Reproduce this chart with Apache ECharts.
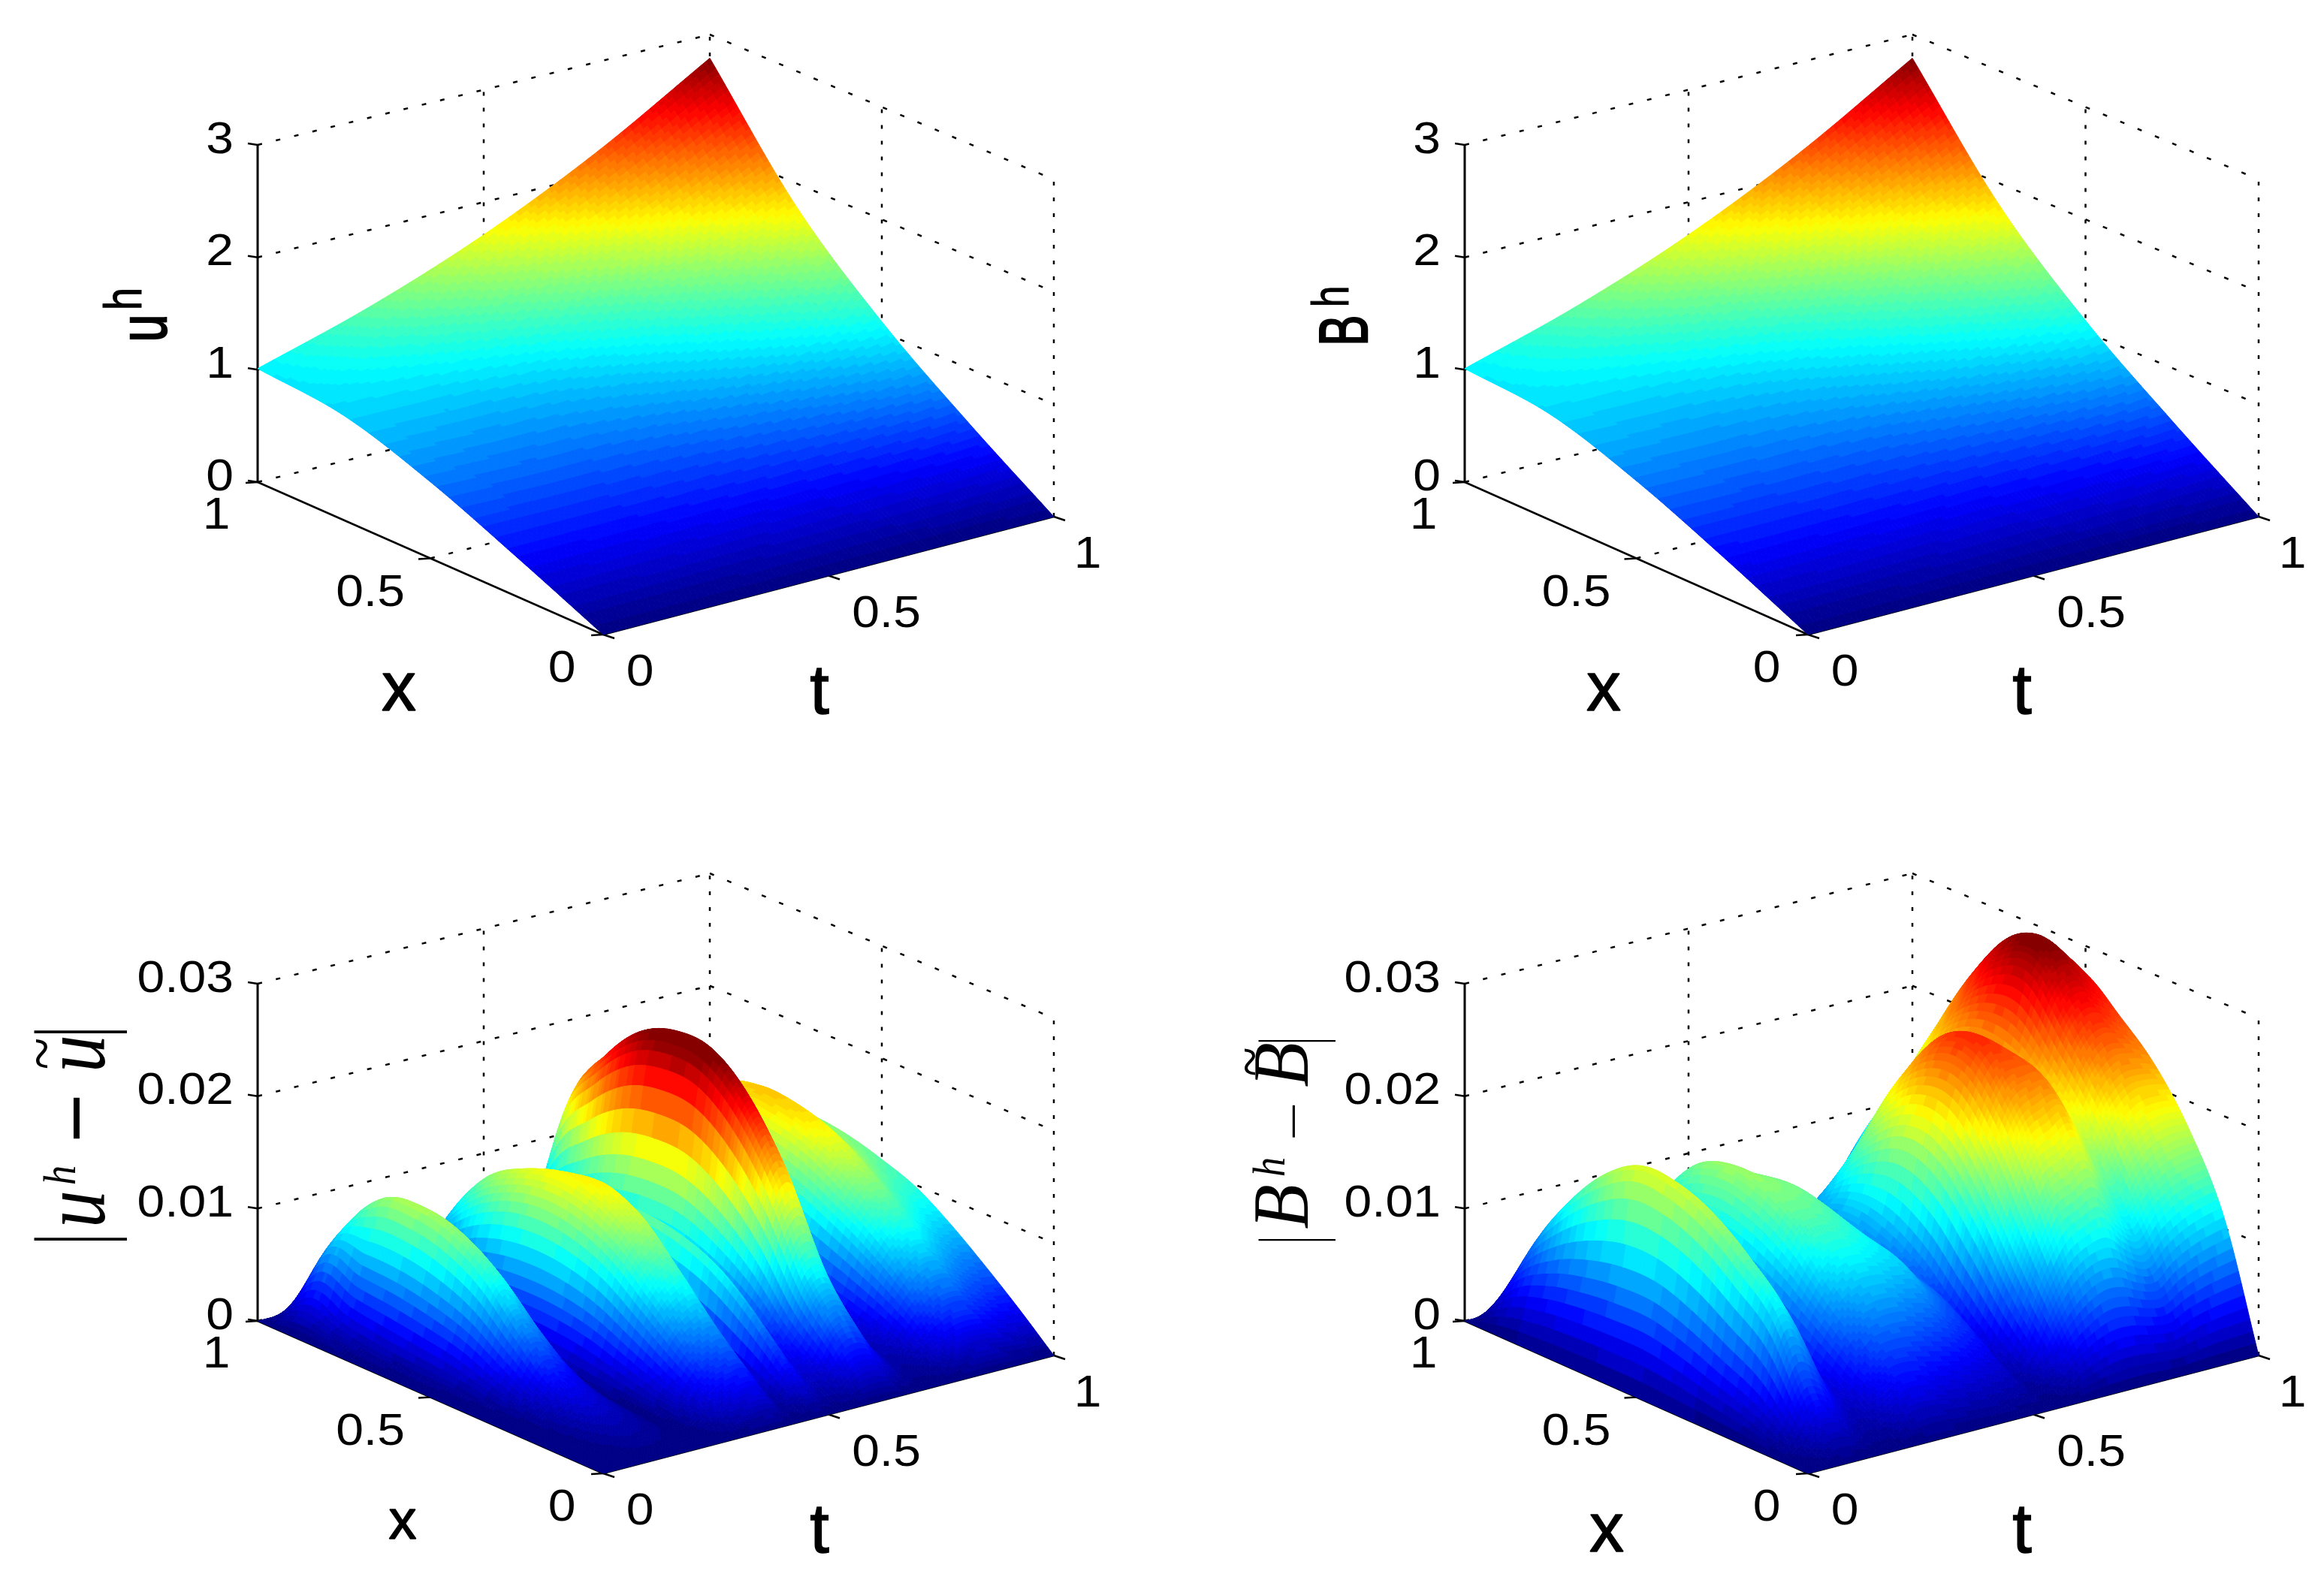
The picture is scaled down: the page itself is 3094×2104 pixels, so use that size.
<!DOCTYPE html>
<html><head><meta charset="utf-8">
<style>html,body{margin:0;padding:0;background:#fff}#c{width:3094px;height:2104px}</style>
<script src="https://cdn.jsdelivr.net/npm/echarts@6/dist/echarts.min.js"></script>
</head><body><div id="c"></div>
<script>
// ---------- values ----------
// rows: t ascending, columns: x ascending
const uSurface = [
 [0,.35,.68,.93,1.01],
 [0,.36,.66,.95,1.32],
 [0,.39,.72,1.08,1.71],
 [0,.44,.87,1.38,2.20],
 [0,.52,1.09,1.80,2.79]];
const bSurface = [
 [0,.36,.69,.94,1.01],
 [0,.37,.68,.96,1.32],
 [0,.40,.74,1.10,1.71],
 [0,.45,.89,1.40,2.20],
 [0,.53,1.10,1.81,2.79]];
// rows t = 0, .04, ... 1; columns x = 0, .1, ... 1; values x 1e-3
const uError = [
 [0,0,0,0,0,0,0,0,0,0,0],
 [0,.1,.2,.3,.6,1,1.2,1.5,2,3,0],
 [0,.4,.9,1.6,3.2,5,6,6.6,6.8,7,0],
 [0,.8,1.8,3.2,6.4,10,12,12.7,12.2,8.5,0],
 [0,.7,1.6,2.9,5.8,9,10.8,11.4,10.6,8,0],
 [0,.4,.9,1.6,3.2,5,6,6.4,6.1,5,0],
 [0,.1,.2,.3,.6,1,1.2,1.3,1.2,1,0],
 [0,1.2,2.2,3.4,4.6,5.2,5.3,5,4.2,2.6,0],
 [0,2.7,5.1,7.8,10.4,11.8,12.2,11.5,9.6,6,0],
 [0,3.4,6.4,9.8,13,14.8,15,14,12,7.5,0],
 [0,3.4,6.4,9.8,12.8,14,13,11,8.5,5,0],
 [0,1,1.9,2.9,3.9,4.4,4.6,4.3,3.6,2.3,0],
 [0,3.4,6.8,9.4,10.8,11.4,11.2,9.6,7,4.2,0],
 [0,1.8,3.5,5,6,6.5,6.5,5.8,4.5,3,0],
 [0,2.2,4.5,8,10.5,12,12.2,11.6,10,7.2,0],
 [0,4.4,8.7,15.5,20.2,22.8,23.1,22,18.9,13.9,0],
 [0,4.5,9,16,20.8,23.5,23.8,22.6,19.4,14.3,0],
 [0,2.3,4.5,8,10.5,12,12.2,11.6,10,7.2,0],
 [0,.9,1.8,3.2,4.2,4.9,5,4.8,4,2.9,0],
 [0,1.2,2.3,3.2,3.9,4.5,4.8,4.9,4.5,3,0],
 [0,2.8,5.3,7.4,9.1,10.5,11.2,11.3,10.5,7,0],
 [0,3.8,7.1,10,12.4,14.3,15.2,15.4,14.3,9.5,0],
 [0,4,7.5,10.5,13,15,16,16.2,15,10,0],
 [0,3.5,6.5,9.2,11.4,13.2,14.2,14.7,14,9.8,0],
 [0,3,5.7,8.2,10.3,11.8,12.7,13.2,12.8,9.3,0],
 [0,2.8,5.4,7.8,9.8,11,11.9,12.3,12,9,0]];
const bError = [
 [0,0,0,0,0,0,0,0,0,0,0],
 [0,1.5,4,5.5,7,8,8,7.5,6.5,4.5,0],
 [0,4,10.8,14,16.5,17.8,18,16,12.5,7.5,0],
 [0,3.7,9.5,12.5,14.5,15.5,15.5,14,11,6.5,0],
 [0,2,5.4,7.3,8.8,9.4,9.3,8.3,6.4,3.8,0],
 [0,1.5,3,4.5,5.5,6,6,5.5,4,2.2,0],
 [0,3,5.2,7.6,10,11.6,12.2,11.2,8.3,4.5,0],
 [0,4,7,10,13.5,15.5,16.2,15,11,6,0],
 [0,4,7.5,11,14,15.5,15.5,14,10,5,0],
 [0,3.5,7.5,11,13.5,15,14.5,12.5,8.5,4,0],
 [0,3.2,7,10.5,12.5,13.5,13,10.5,7,3,0],
 [0,2.8,6.5,10,11,11.5,11.5,9,5.5,2.5,0],
 [0,2.4,5.5,8,9,10,10,8,5,2.5,0],
 [0,2,4.5,6.5,7.5,8,8.5,7.5,5,2.5,0],
 [0,1,2.5,5,8,10,10.5,9,5.5,2.5,0],
 [0,3,7,12,16,17,15,11,6,2.5,0],
 [0,6,12,18,22,22,19,13,7,3,0],
 [0,8,16,22,25.5,25,21,15,8.5,4,0],
 [0,9,17,23,25.5,25,22,16,9,4,0],
 [0,9,18,23,24,22.5,19.5,17,13,7,0],
 [0,8,15,20,21.5,21,21,19,15,9,0],
 [0,7.5,13,18,21.5,24.5,24.5,22,17,10,0],
 [0,9,15.5,21,25.5,29.5,28.5,24.5,19,11.5,0],
 [0,10,17,22.5,27,31,30.5,26.5,20.5,12,0],
 [0,10.6,17.5,22.5,26.2,29.5,28.5,24.5,19,11.5,0],
 [0,11,17.5,22,25,27.5,27,23.5,18,10.5,0]];
const zTicksState = [0,1,2,3];
const zTicksError = [0,10,20,30];
const zLabelsState = ['0','1','2','3'];
const zLabelsError = ['0','0.01','0.02','0.03'];
const floorTicks = [0,0.5,1];
const floorLabels = ['0','0.5','1'];

// ---------- layout and styling ----------
const GRID_W = 1490, GRID_H = 987;
const SANS = 'Liberation Sans', SERIF = 'Liberation Serif';
const Q = Math.PI/2;
// [text, x, y, family, size, scaleX, scaleY, italic, strokeWidth]
const PANELS = [
 {left:0, top:0, adj:0, table:uSurface, colorMax:2.79, zTicks:zTicksState, zTop:3, zLabels:zLabelsState, sub:[28,28], xSize:92,
  title:[['u',196,437,SANS,89,.74,1,0,2.5],['h',168,398,SANS,71,.76,1,0,1]]},
 {left:1604, top:0, adj:3, table:bSurface, colorMax:2.79, zTicks:zTicksState, zTop:3, zLabels:zLabelsState, sub:[28,28], xSize:92,
  title:[['B',191,440,SANS,91,.68,1,0,2.5],['h',172,395,SANS,68,.76,1,0,1]]},
 {left:0, top:1117, adj:0, table:uError, colorMax:24, zTicks:zTicksError, zTop:30, zLabels:zLabelsError, sub:[6,12], xSize:74,
  title:[['|',105,257,SERIF,135,.55,1,0,0],['|',105,533,SERIF,135,.55,1,0,0],['\u2212',108,372,SANS,112,1,1,0,0],
         ['u',107,286,SERIF,120,.83,1,1,0],['~',62,286,SERIF,88,.9,1,0,0],['u',107,493,SERIF,120,.83,1,1,0],['h',84,448,SERIF,62,.85,1,1,0]]},
 {left:1604, top:1117, adj:3, table:bError, colorMax:31, zTicks:zTicksError, zTop:30, zLabels:zLabelsError, sub:[6,12], xSize:92,
  title:[['|',121,269,SERIF,112,.4,1,0,0],['|',121,534,SERIF,112,.4,1,0,0],['\u2212',121,376,SANS,88,1,.5,0,0],
         ['B',109,490,SERIF,106,.92,1,1,0],['B',109,301,SERIF,106,.92,1,1,0],['~',66,297,SERIF,80,.9,1,0,0],['h',90,437,SERIF,62,.85,1,1,0]]}
];
const XLABEL_OFF = [[-55,46],[-80,47],[-55,45]];
const TLABEL_OFF = [[49,51],[77,52],[45,51]];

function frame(p){
  return {F:[803,845],R:[1403,688],L:[343+p.adj,642],B:[945-p.adj,495],K:449/p.zTop};
}
function proj(f,t,x,z){
  const a=(1-t)*(1-x),b=t*(1-x),c=(1-t)*x,d=t*x;
  return [a*f.F[0]+b*f.R[0]+c*f.L[0]+d*f.B[0], a*f.F[1]+b*f.R[1]+c*f.L[1]+d*f.B[1]-z*f.K];
}
function jet(v){
  const n=64; let i=Math.min(n-1,Math.max(0,Math.floor(v*n)));
  const g=(i+.5)/n;
  const ch=s=>Math.round(255*Math.max(0,Math.min(1,1.5-Math.abs(4*g-s))));
  return 'rgb('+ch(3)+','+ch(2)+','+ch(1)+')';
}
function cr(a,b,c,d,s){return .5*(2*b+(c-a)*s+(2*a-5*b+4*c-d)*s*s+(3*b-a-3*c+d)*s*s*s);}
function at(get,i,n){ return i<0?2*get(0)-get(1): i>n?2*get(n)-get(n-1): get(i); }
function sampleTable(tb,ru,cv){
  const nr=tb.length-1,nc=tb[0].length-1;
  const r=Math.min(nr-1,Math.floor(ru)),c=Math.min(nc-1,Math.floor(cv));
  const s=ru-r,w=cv-c;
  const row=k=>{const R=tb[k],g=j=>R[j];return cr(at(g,c-1,nc),R[c],R[c+1],at(g,c+2,nc),w);};
  return Math.max(0,cr(at(row,r-1,nr),row(r),row(r+1),at(row,r+2,nr),s));
}
function scaffold(p,pi){
  const f=frame(p);
  return function(params,api){
    const C=q=>api.coord(q), ch=[];
    const line=(a,b,w,dash)=>{const A=C(a),B=C(b);ch.push({type:'line',shape:{x1:A[0],y1:A[1],x2:B[0],y2:B[1]},
      style:{stroke:'#000',lineWidth:w,lineDash:dash||null,fill:null}});};
    const txt=(s,x,y,fam,size,sx,sy,ital,rot,al,sw)=>{const A=C([x,y]);ch.push({type:'text',x:A[0],y:A[1],rotation:rot||0,scaleX:sx,scaleY:sy,
      style:{text:s,x:0,y:0,fontFamily:fam,fontSize:size,fontStyle:ital?'italic':'normal',fill:'#000',stroke:sw?'#000':null,lineWidth:sw||0,align:al||'center',verticalAlign:'middle'}});};
    const DV=[5,16],DD=[6,19];
    p.zTicks.forEach(z=>{
      line(proj(f,0,1,z),proj(f,1,1,z),2.5,DD);
      line(proj(f,1,1,z),proj(f,1,0,z),2.5,DD);
    });
    [[.5,1],[1,1],[1,.5],[1,0]].forEach(q=>line(proj(f,q[0],q[1],0),proj(f,q[0],q[1],p.zTop),2.5,DV));
    line(proj(f,.5,0,0),proj(f,.5,1,0),2.5,DD);
    line(proj(f,0,.5,0),proj(f,1,.5,0),2.5,DD);
    // solid axes
    line(proj(f,0,1,0),proj(f,0,1,p.zTop),3);
    line(proj(f,0,1,0),proj(f,0,0,0),2.5);
    line(proj(f,0,0,0),proj(f,1,0,0),2.5);
    p.zTicks.forEach((z,i)=>{
      const a=proj(f,0,1,z);
      line(a,[a[0]-13,a[1]-2],2.5);
      txt(p.zLabels[i],a[0]-32,a[1]-6,SANS,60,1.1,1,0,0,'right');
    });
    floorTicks.forEach((v,i)=>{
      const a=proj(f,0,v,0), b=proj(f,v,0,0);
      line(a,[a[0]-16,a[1]+1],2.5);
      line(b,[b[0]+15,b[1]+5],2.5);
      txt(floorLabels[i],a[0]+XLABEL_OFF[i][0],a[1]+XLABEL_OFF[i][1],SANS,60,1.1,1);
      txt(floorLabels[i],b[0]+TLABEL_OFF[i][0],b[1]+TLABEL_OFF[i][1],SANS,60,1.1,1);
    });
    txt('x',pi===2?536:pi===3?535:531,pi===2?912:pi===3?924:921,SANS,p.xSize,1,1,0,0,'center',1.5);
    txt('t',pi%2?1088:1091,925,SANS,92,1,1,0,0,'center',1.5);
    p.title.forEach(s=>txt(s[0],s[1],s[2],s[3],s[4],s[5],s[6],s[7],Q,'center',s[8]));
    return {type:'group',children:ch};
  };
}
function surface(p){
  const f=frame(p),tb=p.table,nr=tb.length-1,nc=tb[0].length-1,st=p.sub[0],sx=p.sub[1];
  return function(params,api){
    const r=api.value(0),c=api.value(1),ch=[],pt=[];
    for(let a=0;a<=st;a++){pt[a]=[];for(let b=0;b<=sx;b++){
      const ru=r+a/st,cv=c+b/sx,z=sampleTable(tb,ru,cv);
      const q=api.coord(proj(f,ru/nr,cv/nc,z));
      pt[a][b]=[q[0],q[1],z];
    }}
    for(let a=st-1;a>=0;a--)for(let b=sx-1;b>=0;b--){
      const A=pt[a][b],B=pt[a+1][b],C=pt[a+1][b+1],D=pt[a][b+1];
      const col=jet((A[2]+B[2]+C[2]+D[2])/4/p.colorMax);
      ch.push({type:'polygon',shape:{points:[[A[0],A[1]],[B[0],B[1]],[C[0],C[1]],[D[0],D[1]]]},
        style:{fill:col,stroke:col,lineWidth:1}});
    }
    return {type:'group',children:ch};
  };
}
const grid=[],xAxis=[],yAxis=[],series=[];
PANELS.forEach((p,i)=>{
  grid.push({left:p.left,top:p.top,width:GRID_W,height:GRID_H,show:false});
  xAxis.push({gridIndex:i,type:'value',min:0,max:GRID_W,show:false});
  yAxis.push({gridIndex:i,type:'value',min:0,max:GRID_H,inverse:true,show:false});
  series.push({type:'custom',xAxisIndex:i,yAxisIndex:i,clip:false,silent:true,z:1,progressive:0,
    renderItem:scaffold(p,i),data:[[0,0]]});
  const cells=[];
  for(let r=p.table.length-2;r>=0;r--)for(let c=p.table[0].length-2;c>=0;c--)cells.push([r,c]);
  series.push({type:'custom',xAxisIndex:i,yAxisIndex:i,clip:false,silent:true,z:2,progressive:0,
    renderItem:surface(p),data:cells,encode:{x:0,y:1}});
});
const chart=echarts.init(document.getElementById('c'),null,{renderer:'canvas',width:3094,height:2104});
chart.setOption({animation:false,backgroundColor:'#fff',tooltip:{show:false},grid,xAxis,yAxis,series});
</script></body></html>
